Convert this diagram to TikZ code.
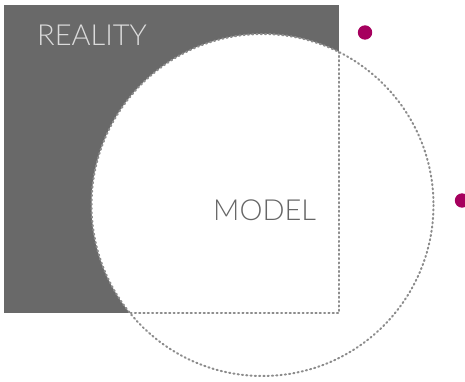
\documentclass[tikz,border=0pt]{standalone}
\usepackage{fontspec}
\newfontfamily\thinfont{Lato Light}
\definecolor{realgray}{HTML}{696969}
\definecolor{linegray}{HTML}{8C8C8C}
\definecolor{textgray}{HTML}{666666}
\definecolor{dotred}{HTML}{A6005E}
\begin{document}
\begin{tikzpicture}[x=1pt,y=-1pt,
    dotline/.style={draw=linegray,line width=2pt,line cap=round,dash pattern=on 1.2pt off 3.1pt},
    label/.style={font=\thinfont\fontsize{29}{29}\selectfont,inner sep=0pt,anchor=base west}]
  \useasboundingbox (0,0) rectangle (465,382);
  % reality and model
  \coordinate (rtl) at (4,5);
  \coordinate (rbr) at (339,313);
  \coordinate (mc) at (262.5,205);
  \fill[realgray] (rtl) rectangle (rbr);
  \fill[white] (mc) circle[radius=171];
  \begin{scope}
    \clip (mc) circle[radius=171];
    \draw[dotline] (339,0) -- (rbr) -- (0,313);
  \end{scope}
  \draw[dotline] (mc) circle[radius=171];
  % labels
  \node[label,text=white!86!black] (reality) at (37,46) {REALITY};
  \node[label,text=textgray] (model) at (213,220) {MODEL};
  % bullets
  \fill[dotred] (365,32.5) circle[radius=7.2];
  \fill[dotred] (462,200.5) circle[radius=7.2];
\end{tikzpicture}
\end{document}
